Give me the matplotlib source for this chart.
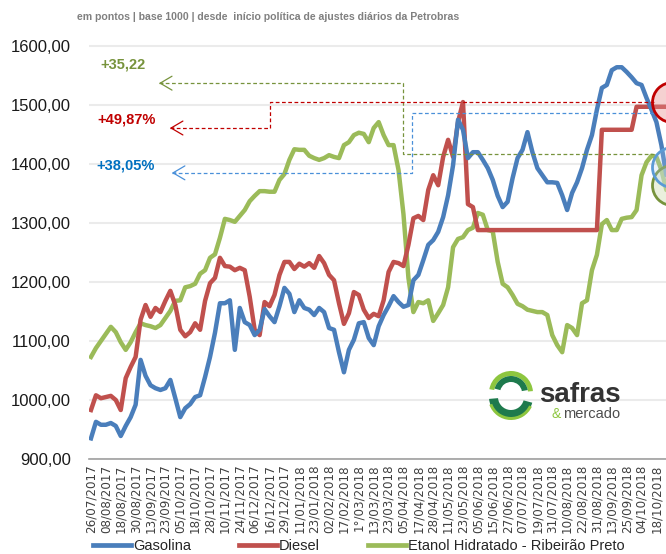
import matplotlib
matplotlib.use('Agg')
import matplotlib.pyplot as plt
from matplotlib.patches import Wedge
from matplotlib.lines import Line2D

plt.rcParams['font.family'] = ['Liberation Sans', 'DejaVu Sans']

# ── dados (índice base 1000) ──
datas = ['26/07/2017', '08/08/2017', '18/08/2017', '30/08/2017', '13/09/2017', '23/09/2017',
         '05/10/2017', '18/10/2017', '28/10/2017', '10/11/2017', '24/11/2017', '06/12/2017',
         '16/12/2017', '29/12/2017', '11/01/2018', '23/01/2018', '02/02/2018', '17/02/2018',
         '1°/03/2018', '13/03/2018', '23/03/2018', '05/04/2018', '17/04/2018', '28/04/2018',
         '11/05/2018', '23/05/2018', '05/06/2018', '15/06/2018', '27/06/2018', '07/07/2018',
         '19/07/2018', '31/07/2018', '10/08/2018', '22/08/2018', '31/08/2018', '13/09/2018',
         '25/09/2018', '04/10/2018', '18/10/2018']

gasolina = [935, 963, 958, 958, 961, 956, 939, 956, 971, 992,
            1068, 1041, 1025, 1020, 1017, 1020, 1034, 1003, 971, 986,
            993, 1005, 1008, 1039, 1073, 1114, 1164, 1164, 1169, 1085,
            1156, 1132, 1127, 1110, 1119, 1154, 1142, 1132, 1159, 1190,
            1180, 1149, 1169, 1156, 1153, 1144, 1156, 1149, 1122, 1119,
            1081, 1047, 1085, 1102, 1130, 1132, 1105, 1093, 1125, 1144,
            1159, 1176, 1166, 1158, 1161, 1203, 1212, 1237, 1263, 1271,
            1285, 1310, 1347, 1398, 1475, 1458, 1410, 1420, 1420, 1407,
            1393, 1373, 1346, 1327, 1336, 1376, 1410, 1424, 1454, 1420,
            1393, 1381, 1369, 1369, 1368, 1347, 1322, 1351, 1369, 1393,
            1424, 1449, 1492, 1529, 1534, 1559, 1564, 1564, 1556, 1547,
            1537, 1534, 1512, 1492, 1471, 1432, 1381, 1380]

diesel = [983, 1008, 1003, 1005, 1007, 1000, 983, 1037, 1056, 1073,
          1136, 1161, 1141, 1156, 1149, 1168, 1185, 1161, 1119, 1108,
          1115, 1130, 1119, 1168, 1198, 1207, 1241, 1227, 1226, 1220,
          1224, 1220, 1175, 1119, 1110, 1166, 1159, 1178, 1212, 1234,
          1234, 1222, 1231, 1226, 1232, 1224, 1244, 1232, 1212, 1203,
          1164, 1129, 1147, 1183, 1178, 1153, 1139, 1146, 1142, 1169,
          1217, 1234, 1232, 1227, 1263, 1308, 1312, 1305, 1356, 1381,
          1364, 1412, 1441, 1412, 1471, 1505, 1332, 1327, 1288, 1288,
          1288, 1288, 1288, 1288, 1288, 1288, 1288, 1288, 1288, 1288,
          1288, 1288, 1288, 1288, 1288, 1288, 1288, 1288, 1288, 1288,
          1288, 1288, 1288, 1458, 1458, 1458, 1458, 1458, 1458, 1458,
          1497, 1497, 1497, 1497, 1497, 1497, 1497, 1497]

etanol = [1073, 1088, 1100, 1112, 1124, 1115, 1098, 1085, 1098, 1115,
          1130, 1127, 1125, 1122, 1127, 1139, 1151, 1168, 1169, 1191,
          1193, 1197, 1214, 1220, 1241, 1247, 1275, 1307, 1305, 1302,
          1312, 1322, 1337, 1346, 1354, 1354, 1353, 1353, 1373, 1383,
          1407, 1425, 1424, 1424, 1414, 1410, 1407, 1410, 1415, 1412,
          1410, 1432, 1437, 1449, 1453, 1451, 1437, 1461, 1471, 1449,
          1432, 1432, 1390, 1315, 1207, 1149, 1166, 1164, 1169, 1134,
          1147, 1161, 1191, 1259, 1273, 1276, 1288, 1292, 1317, 1314,
          1288, 1286, 1234, 1197, 1191, 1178, 1163, 1159, 1153, 1151,
          1149, 1149, 1144, 1110, 1093, 1081, 1127, 1122, 1110, 1164,
          1169, 1220, 1246, 1298, 1305, 1288, 1288, 1307, 1309, 1310,
          1322, 1381, 1403, 1414, 1412, 1390, 1356, 1352]

C_GAS, C_DIE, C_ETA = '#4a7ebb', '#c0504d', '#9bbb59'
D_GRN, D_RED, D_BLU = '#77933c', '#c00000', '#4a90d9'

fig = plt.figure(figsize=(6.66, 5.54), dpi=100)
ax = fig.add_axes([89/666, 95/554, 577/666, 459/554])
ax.set_xlim(-0.4, 115.93)
ax.set_ylim(900, 900 + 459/0.59)

x = list(range(len(gasolina)))
ax.plot(x, etanol, color=C_ETA, lw=3.2, solid_joinstyle='round', zorder=3)
ax.plot(x, diesel, color=C_DIE, lw=3.2, solid_joinstyle='round', zorder=4)
ax.plot(x, gasolina, color=C_GAS, lw=3.2, solid_joinstyle='round', zorder=5)

# eixos
ax.set_yticks([900, 1000, 1100, 1200, 1300, 1400, 1500, 1600])
ax.set_yticklabels([f'{v},00' for v in range(900, 1700, 100)], fontsize=12, color='#1a1a1a')
ax.set_xticks(range(0, 3*len(datas), 3))
ax.set_xticklabels(datas, rotation=90, fontsize=8.6, color='#404040', family='DejaVu Sans')
ax.tick_params(axis='both', length=0)
ax.tick_params(axis='y', pad=13)
ax.tick_params(axis='x', pad=4)
ax.grid(axis='y', color='#ebebeb', lw=1.5)
ax.set_axisbelow(True)
for s in ('top', 'right', 'left'):
    ax.spines[s].set_visible(False)
ax.spines['bottom'].set_color('#a0a0a0')
ax.spines['bottom'].set_linewidth(1.2)

# ── setas tracejadas de variação ──
DASH = (0, (3, 2))
def seta(pts, cor):
    xs, ys = zip(*pts)
    ax.plot(xs, ys, color=cor, lw=0.9, ls=DASH, zorder=6, clip_on=False)
    ax.annotate('', xy=pts[0], xytext=(pts[0][0] + 0.8, pts[0][1]),
                arrowprops=dict(arrowstyle='->,head_length=0.85,head_width=0.5',
                                color=cor, lw=0.9, shrinkA=0, shrinkB=0), zorder=6)

seta([(13.7, 1537), (62.9, 1537), (62.9, 1417), (113.5, 1417)], D_GRN)
seta([(15.9, 1461), (36.1, 1461), (36.1, 1505), (114.0, 1505)], D_RED)
seta([(16.3, 1385), (64.7, 1385), (64.7, 1487), (113.5, 1487)], D_BLU)

ax.text(1.8, 1568, '+35,22', color=D_GRN, fontsize=10.5, fontweight='bold', va='center')
ax.text(1.2, 1475, '+49,87%', color=D_RED, fontsize=10.5, fontweight='bold', va='center')
ax.text(1.0, 1397, '+38,05%', color='#0070c0', fontsize=10.5, fontweight='bold', va='center')

# círculos de destaque no fim das séries
ax.scatter([117.2], [1505], s=829, facecolor=(0.9, 0.55, 0.55, 0.4), edgecolor=D_RED,
           lw=2.0, zorder=7, clip_on=False)
ax.scatter([117.2], [1365], s=829, facecolor=(0.84, 0.89, 0.74, 0.5), edgecolor=D_GRN,
           lw=2.0, zorder=7, clip_on=False)
ax.scatter([117.2], [1395], s=829, facecolor=(0.7, 0.82, 0.94, 0.25), edgecolor='#5b9bd5',
           lw=2.0, zorder=8, clip_on=False)

# subtítulo
fig.text(268/666, 1 - 17/554,
         'em pontos | base 1000 | desde  início política de ajustes diários da Petrobras',
         ha='center', va='center', fontsize=7.6, fontweight='bold', color='#808080')

# legenda
handles = [Line2D([], [], color=C_GAS, lw=3.4),
           Line2D([], [], color=C_DIE, lw=3.4),
           Line2D([], [], color=C_ETA, lw=3.4)]
fig.legend(handles, ['Gasolina', 'Diesel', 'Etanol Hidratado - Ribeirão Preto'],
           loc='center left', bbox_to_anchor=(86/666, 8/554), ncol=3, frameon=False,
           fontsize=10.5, handlelength=2.6, handletextpad=0.12, columnspacing=3.3,
           borderpad=0, labelcolor='#262626')

# logo safras & mercado (desenho aproximado)
lg = fig.add_axes([0, 0, 1, 1], zorder=10)
lg.set_xlim(0, 666); lg.set_ylim(554, 0); lg.axis('off')
cx, cy = 511, 395
lg.add_patch(Wedge((cx, cy - 2), 22, 190, 355, width=5, fc='#8dc63f', ec='none'))
lg.add_patch(Wedge((cx, cy - 2), 17, 195, 350, width=6, fc='#1e7a4d', ec='none'))
lg.add_patch(Wedge((cx, cy + 2), 22, 15, 175, width=9, fc='#1e7a4d', ec='none'))
lg.add_patch(Wedge((cx, cy + 2), 23, 25, 160, width=3, fc='#8dc63f', ec='none'))
lg.text(539, 402, 'safras', fontsize=20, fontweight='bold', color='#333333',
        va='baseline', ha='left')
lg.text(552, 418, '&', fontsize=10, color='#8dc63f', va='baseline', ha='left')
lg.text(563, 418, 'mercado', fontsize=10.5, color='#4d4d4d', va='baseline', ha='left')

fig.savefig('out.png', dpi=100, facecolor='white')
